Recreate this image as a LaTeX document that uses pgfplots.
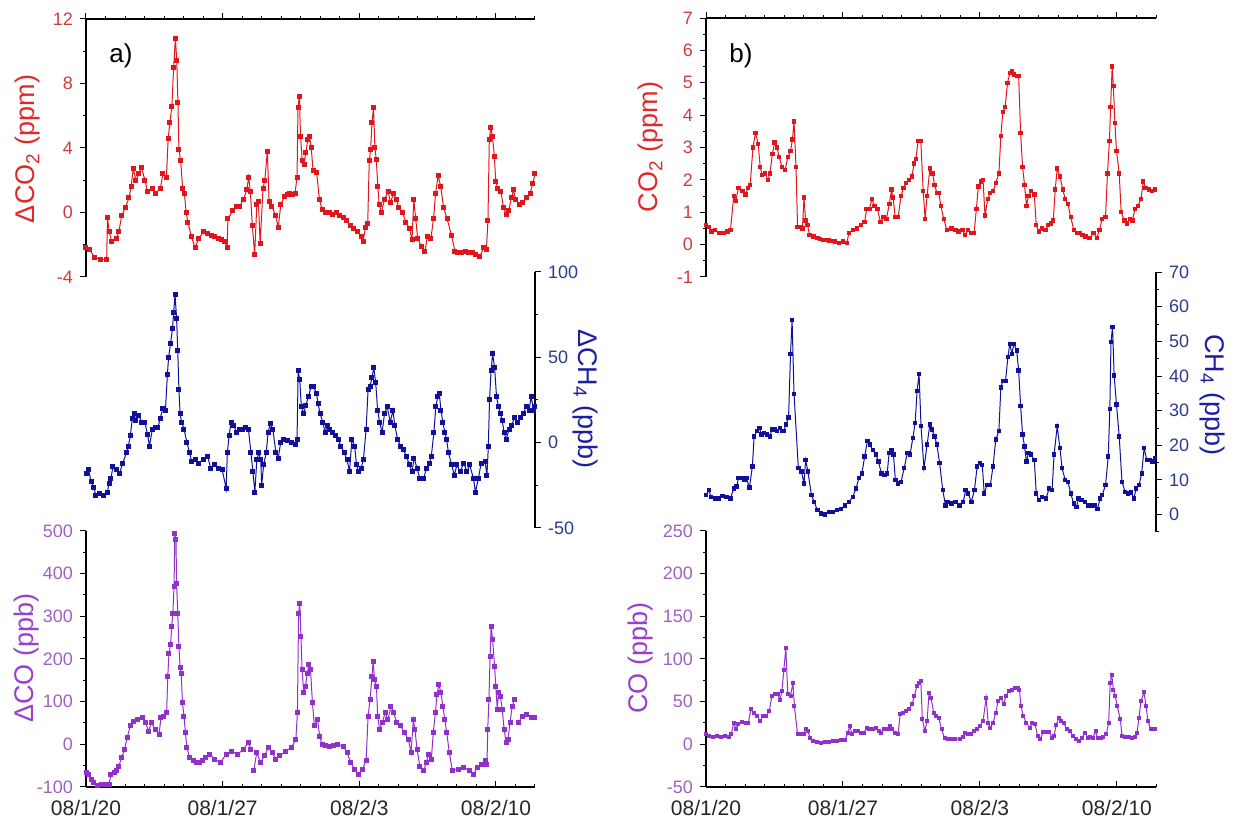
\documentclass[border=0pt]{standalone}
\usepackage{fontspec}
\setmainfont{Liberation Sans}
\usepackage{pgfplots}
\pgfplotsset{compat=1.18}

\definecolor{cred}{HTML}{E0161C}
\definecolor{credlab}{HTML}{E02A2A}
\definecolor{credtick}{HTML}{D03C3C}
\definecolor{cblue}{HTML}{10109A}
\definecolor{cbluelab}{HTML}{1E1EA0}
\definecolor{cbluetick}{HTML}{2E3A8C}
\definecolor{cpurp}{HTML}{9230CC}
\definecolor{cpurplab}{HTML}{9A40CC}
\definecolor{cpurptick}{HTML}{A060C0}

\pgfplotsset{
  panel/.style={
    scale only axis,
    xmin=0, xmax=23,
    xtick={0,7,14,21},
    minor xtick={1,2,3,4,5,6,8,9,10,11,12,13,15,16,17,18,19,20,22,23},
    tick align=outside,
    major tick length=3pt, minor tick length=1.6pt,
    axis line style={-, line width=0.6pt, black},
    every outer x axis line/.append style={-},
    every outer y axis line/.append style={-},
    every inner x axis line/.append style={-},
    every inner y axis line/.append style={-},
    every tick/.append style={black, line width=0.5pt},
    /pgf/number format/assume math mode=true,
    yticklabel style={font=\fontsize{9}{10}\selectfont},
    unbounded coords=jump,
  },
  toppanel/.style={axis x line=top, axis y line=left, panel, xticklabels={}},
  midpanel/.style={axis x line=none, axis y line=right, panel},
  botpanel/.style={axis x line=bottom, axis y line=left, panel,
    xticklabels={08/1/20,08/1/27,08/2/3,08/2/10},
    xticklabel style={font=\fontsize{10.5}{12}\selectfont, text=black!85},
    major x tick style={yshift=3pt}, minor x tick style={yshift=1.6pt}},
  ser/.style={color=#1, line width=0.5pt, mark=square*, mark size=1pt, mark options={solid}},
}

\begin{document}
\begin{tikzpicture}
\useasboundingbox (0,0) rectangle (619.5pt,410pt);

% ---------- a) left column ----------
\begin{axis}[toppanel, at={(43pt,271.5pt)}, anchor=south west,
  width=224.5pt, height=129pt, ymin=-4, ymax=12, ytick={-4,0,4,8,12}, minor y tick num=1,
  yticklabel style={text=credtick}]
\addplot[ser=cred] coordinates {
(0.00,-2.2)(0.18,-2.3)(0.46,-2.8)(0.73,-2.9)(1.06,-2.9)(1.10,-0.3)(1.19,-1.2)(1.32,-1.8)(1.56,-1.6)(1.68,-1.2)
(1.83,-0.2)(2.01,0.3)(2.20,0.9)(2.31,1.6)(2.42,2.7)(2.56,2.0)(2.71,2.4)(2.84,2.8)(3.02,2.0)(3.15,1.3)
(3.39,1.5)(3.57,1.2)(3.81,1.5)(3.94,2.4)(4.12,2.2)(4.21,4.6)(4.30,5.6)(4.40,6.6)(4.49,9.0)(4.58,10.8)
(4.65,9.4)(4.71,6.8)(4.76,3.9)(4.85,3.2)(4.95,1.5)(5.04,1.2)(5.13,0.0)(5.22,-0.6)(5.40,-1.5)(5.59,-2.2)
(5.77,-1.6)(6.04,-1.2)(6.20,-1.3)(6.41,-1.4)(6.60,-1.5)(6.78,-1.6)(6.95,-1.7)(7.11,-1.8)(7.23,-2.2)(7.27,-0.4)
(7.51,0.1)(7.69,0.4)(7.88,0.4)(8.06,0.8)(8.24,1.4)(8.33,2.2)(8.42,1.3)(8.52,-0.8)(8.64,-2.6)(8.75,0.5)
(8.83,0.7)(8.92,-1.9)(9.07,1.5)(9.16,2.0)(9.29,3.8)(9.38,0.7)(9.52,0.4)(9.71,-0.2)(9.85,-0.9)(9.98,0.5)
(10.16,1.0)(10.30,1.1)(10.44,1.2)(10.58,1.1)(10.71,1.2)(10.81,2.2)(10.86,6.5)(10.93,7.2)(10.99,4.7)(11.08,3.2)
(11.17,3.0)(11.26,3.7)(11.36,4.5)(11.45,4.7)(11.54,4.0)(11.63,2.6)(11.81,2.5)(11.96,0.8)(12.09,0.2)(12.25,0.0)
(12.45,0.0)(12.62,-0.1)(12.82,0.0)(13.00,-0.2)(13.19,-0.3)(13.35,-0.5)(13.55,-0.8)(13.72,-1.0)(13.92,-1.2)(14.10,-1.5)
(14.19,-1.8)(14.32,-0.9)(14.43,-0.7)(14.51,3.2)(14.58,3.9)(14.65,5.6)(14.73,6.5)(14.80,4.0)(14.87,3.3)(14.95,1.6)
(15.02,0.5)(15.13,0.0)(15.29,0.8)(15.48,1.3)(15.60,0.6)(15.75,1.2)(15.90,0.8)(16.03,0.3)(16.21,0.0)(16.39,-0.6)
(16.58,-1.0)(16.70,-1.7)(16.79,0.8)(16.89,-0.4)(16.99,-1.6)(17.18,-2.1)(17.36,-2.4)(17.49,-1.5)(17.67,-1.6)(17.80,-0.4)
(17.91,1.2)(18.04,2.3)(18.17,1.6)(18.32,0.3)(18.50,-0.4)(18.72,-1.4)(18.90,-2.4)(19.05,-2.5)(19.23,-2.5)(19.42,-2.4)
(19.60,-2.5)(19.78,-2.5)(19.96,-2.6)(20.18,-2.7)(20.37,-2.2)(20.51,-2.3)(20.59,-0.5)(20.66,4.5)(20.73,5.3)(20.82,4.7)
(20.92,3.5)(20.99,1.9)(21.10,1.5)(21.25,1.3)(21.39,0.3)(21.52,-0.1)(21.65,0.1)(21.79,0.9)(21.90,1.4)(22.01,0.8)
(22.20,0.5)(22.38,0.6)(22.56,0.9)(22.75,1.2)(22.89,1.8)(23.00,2.4)
};
\end{axis}

\begin{axis}[midpanel, at={(43pt,146pt)}, anchor=south west,
  width=224.5pt, height=128pt, ymin=-50, ymax=100, ytick={-50,0,50,100}, minor y tick num=1,
  yticklabel style={text=cbluetick}]
\addplot[ser=cblue] coordinates {
(0.01,-18)(0.14,-16)(0.26,-23)(0.40,-26)(0.50,-31)(0.69,-30)(0.89,-31)(1.09,-29)(1.18,-24)(1.28,-21)
(1.38,-14)(1.58,-16)(1.72,-18)(1.88,-12)(2.07,-6)(2.17,-2)(2.27,4)(2.37,14)(2.46,17)(2.56,13)
(2.70,16)(2.86,12)(3.01,12)(3.15,5)(3.25,-2)(3.40,8)(3.54,9)(3.68,9)(3.80,14)(3.93,20)
(4.07,19)(4.17,40)(4.23,50)(4.33,58)(4.43,67)(4.49,76)(4.56,87)(4.64,73)(4.70,54)(4.76,31)
(4.82,17)(4.90,12)(5.02,8)(5.17,0)(5.31,-6)(5.41,-11)(5.61,-10)(5.76,-12)(6.00,-10)(6.23,-8)
(6.39,-15)(6.59,-13)(6.78,-15)(6.98,-16)(7.18,-27)(7.24,-6)(7.33,4)(7.43,12)(7.57,10)(7.72,6)
(7.87,8)(8.00,8)(8.16,9)(8.32,8)(8.45,-6)(8.55,-17)(8.65,-29)(8.75,-10)(8.85,-6)(8.95,-10)
(9.00,-25)(9.10,-13)(9.23,-6)(9.33,6)(9.43,11)(9.57,8)(9.73,-6)(9.85,-9)(9.97,0)(10.12,2)
(10.32,1)(10.51,0)(10.71,-1)(10.81,2)(10.87,42)(10.95,37)(11.03,21)(11.15,17)(11.26,22)(11.40,27)
(11.53,33)(11.66,33)(11.80,29)(11.89,23)(11.99,17)(12.13,12)(12.25,6)(12.35,10)(12.48,8)(12.64,6)
(12.77,4)(12.91,2)(13.06,-2)(13.23,-6)(13.37,-10)(13.50,-17)(13.62,2)(13.76,-2)(13.86,-13)(13.97,-17)
(14.09,-15)(14.21,-10)(14.35,8)(14.45,31)(14.55,33)(14.65,38)(14.74,44)(14.84,35)(14.94,19)(15.04,12)
(15.17,6)(15.29,17)(15.43,21)(15.59,12)(15.72,19)(15.82,10)(15.96,2)(16.11,-2)(16.25,-4)(16.41,-8)
(16.57,-13)(16.71,-17)(16.80,-9)(16.96,-15)(17.10,-21)(17.30,-21)(17.43,-15)(17.59,-12)(17.69,-8)(17.82,6)
(17.92,21)(18.02,27)(18.10,29)(18.18,19)(18.28,12)(18.38,6)(18.47,2)(18.57,-6)(18.73,-13)(18.87,-19)
(19.00,-13)(19.16,-17)(19.36,-12)(19.51,-17)(19.65,-13)(19.85,-21)(19.95,-29)(20.10,-21)(20.24,-12)(20.44,-11)
(20.54,-19)(20.61,-2)(20.67,25)(20.75,42)(20.83,52)(20.93,44)(21.03,27)(21.13,21)(21.23,17)(21.32,13)
(21.42,6)(21.52,2)(21.68,8)(21.81,10)(21.95,15)(22.11,12)(22.27,15)(22.40,17)(22.54,21)(22.70,19)
(22.80,27)(22.93,19)(23.00,21)
};
\end{axis}

\begin{axis}[botpanel, at={(43pt,16.5pt)}, anchor=south west,
  width=224.5pt, height=128pt, ymin=-100, ymax=500, ytick={-100,0,...,500}, minor y tick num=1,
  yticklabel style={text=cpurptick}]
\addplot[ser=cpurp] coordinates {
(0.01,-66)(0.14,-70)(0.26,-82)(0.40,-90)(0.60,-97)(0.79,-93)(0.99,-93)(1.18,-93)(1.28,-70)(1.48,-66)
(1.58,-62)(1.68,-51)(1.83,-31)(1.97,-12)(2.11,16)(2.27,43)(2.42,54)(2.66,58)(2.89,62)(3.05,51)
(3.21,31)(3.35,51)(3.54,35)(3.74,23)(3.84,62)(3.99,66)(4.13,74)(4.19,160)(4.25,214)(4.33,233)
(4.39,276)(4.45,307)(4.51,370)(4.55,494)(4.61,479)(4.64,377)(4.70,307)(4.76,230)(4.82,179)(4.88,167)
(4.94,97)(5.02,66)(5.09,27)(5.17,-8)(5.31,-31)(5.51,-39)(5.65,-42)(5.80,-43)(5.95,-38)(6.10,-31)
(6.35,-23)(6.59,-35)(6.88,-43)(7.18,-23)(7.47,-16)(7.77,-23)(8.06,-12)(8.31,4)(8.45,-12)(8.52,nan)
(8.59,-62)(8.75,-19)(8.94,-43)(9.14,-27)(9.34,-8)(9.53,-19)(9.73,-35)(9.93,-27)(10.22,-16)(10.52,-8)
(10.75,12)(10.83,74)(10.89,307)(10.95,331)(11.01,253)(11.07,175)(11.15,121)(11.24,136)(11.34,167)(11.42,187)
(11.50,175)(11.60,97)(11.70,43)(11.86,58)(11.97,19)(12.09,0)(12.28,-2)(12.48,-4)(12.68,-2)(12.88,0)
(13.17,-4)(13.37,-19)(13.56,-43)(13.76,-58)(13.96,-70)(14.15,-58)(14.35,-39)(14.45,66)(14.55,105)(14.65,160)
(14.71,195)(14.78,152)(14.88,136)(14.94,66)(15.04,35)(15.17,51)(15.33,74)(15.47,58)(15.62,89)(15.76,74)
(15.92,51)(16.12,43)(16.31,27)(16.51,12)(16.65,-19)(16.77,58)(16.85,35)(16.96,-12)(17.10,-51)(17.30,-62)
(17.43,-43)(17.55,-23)(17.69,-35)(17.79,27)(17.90,74)(17.98,117)(18.08,140)(18.18,121)(18.28,89)(18.38,58)
(18.48,27)(18.61,-19)(18.77,-62)(19.06,-58)(19.36,-54)(19.65,-62)(19.85,-70)(20.05,-54)(20.24,-47)(20.44,-39)
(20.54,-47)(20.58,35)(20.64,105)(20.70,206)(20.75,276)(20.83,245)(20.93,183)(20.99,136)(21.07,82)(21.13,121)
(21.23,113)(21.32,82)(21.42,35)(21.52,4)(21.62,12)(21.72,51)(21.83,89)(21.95,105)(22.05,nan)(22.15,51)
(22.34,66)(22.54,70)(22.80,62)(23.00,62)
};
\end{axis}

% ---------- b) right column ----------
\begin{axis}[toppanel, at={(353pt,271.5pt)}, anchor=south west,
  width=225pt, height=129.5pt, ymin=-1, ymax=7, ytick={-1,0,...,7}, minor y tick num=1,
  yticklabel style={text=credtick}]
\addplot[ser=cred, mark size=0.85pt] coordinates {
(0.00,0.6)(0.15,0.55)(0.29,0.4)(0.45,0.45)(0.65,0.35)(0.89,0.35)(1.09,0.4)(1.25,0.45)(1.42,1.5)(1.52,1.35)
(1.66,1.75)(1.86,1.65)(2.02,1.55)(2.16,1.75)(2.26,1.85)(2.40,3.0)(2.53,3.45)(2.67,3.1)(2.77,2.4)(2.87,2.15)
(3.03,2.2)(3.17,2.0)(3.27,2.2)(3.39,2.8)(3.51,3.15)(3.63,3.0)(3.74,2.7)(3.88,2.4)(4.04,2.3)(4.18,2.7)
(4.32,2.9)(4.42,3.25)(4.50,3.8)(4.60,2.4)(4.68,0.55)(4.80,0.55)(4.93,0.5)(5.01,1.45)(5.09,0.75)(5.19,0.6)
(5.29,0.3)(5.49,0.25)(5.69,0.2)(5.84,0.17)(5.99,0.15)(6.15,0.14)(6.30,0.13)(6.45,0.12)(6.60,0.1)(6.80,0.05)
(7.00,0.1)(7.20,0.05)(7.30,0.35)(7.50,0.45)(7.71,0.5)(7.91,0.6)(8.11,0.7)(8.21,1.1)(8.35,1.1)(8.48,1.4)
(8.62,1.2)(8.76,1.1)(8.92,0.7)(9.08,0.85)(9.22,0.8)(9.37,1.25)(9.48,1.7)(9.56,1.45)(9.67,0.85)(9.82,0.85)
(9.97,1.5)(10.09,1.75)(10.23,1.9)(10.37,2.0)(10.53,2.1)(10.63,2.5)(10.73,2.65)(10.84,3.2)(10.98,3.2)(11.10,1.65)
(11.20,0.8)(11.30,1.5)(11.44,2.35)(11.58,2.2)(11.68,1.85)(11.80,1.6)(11.90,1.6)(12.00,1.2)(12.15,0.8)(12.31,0.45)
(12.55,0.5)(12.75,0.45)(12.91,0.4)(13.11,0.45)(13.25,0.3)(13.40,0.45)(13.56,0.35)(13.70,0.35)(13.82,1.1)(13.92,1.8)
(14.04,1.95)(14.16,2.0)(14.26,0.9)(14.40,1.4)(14.53,1.6)(14.67,1.65)(14.81,1.9)(14.97,2.2)(15.07,3.35)(15.17,4.1)
(15.29,4.25)(15.41,5.0)(15.53,5.3)(15.63,5.35)(15.74,5.25)(15.88,5.2)(15.98,5.2)(16.08,3.45)(16.18,2.4)(16.28,1.85)
(16.38,1.2)(16.48,1.5)(16.62,1.65)(16.78,1.55)(16.88,0.6)(17.02,0.4)(17.18,0.5)(17.35,0.45)(17.49,0.6)(17.63,0.65)
(17.75,0.75)(17.85,1.7)(17.95,2.35)(18.09,2.1)(18.24,1.7)(18.36,1.4)(18.50,1.25)(18.64,0.85)(18.80,0.45)(18.96,0.35)
(19.10,0.35)(19.24,0.3)(19.40,0.25)(19.61,0.2)(19.81,0.35)(19.97,0.2)(20.11,0.45)(20.25,0.8)(20.42,0.85)(20.52,2.2)
(20.62,3.2)(20.68,4.25)(20.76,5.5)(20.82,4.9)(20.90,3.75)(20.98,2.9)(21.12,2.2)(21.22,1.0)(21.38,0.75)(21.52,0.65)
(21.66,0.8)(21.79,0.75)(21.93,1.1)(22.07,1.2)(22.23,1.4)(22.35,1.95)(22.47,1.75)(22.63,1.7)(22.80,1.65)(22.94,1.7)
};
\end{axis}

\begin{axis}[midpanel, at={(353pt,144pt)}, anchor=south west,
  width=225pt, height=130pt, ymin=-5, ymax=70, ytick={0,10,...,70}, minor ytick={-5,5,...,65},
  yticklabel style={text=cbluetick}]
\addplot[ser=cblue, mark size=0.85pt] coordinates {
(0.00,5.6)(0.15,7.1)(0.25,5.1)(0.45,4.7)(0.65,4.7)(0.85,5.4)(1.05,5.1)(1.25,4.7)(1.42,7.6)(1.56,8.1)
(1.66,10.5)(1.82,10.5)(1.96,10.0)(2.06,10.5)(2.22,7.8)(2.37,13.9)(2.46,22.6)(2.61,24.1)(2.73,25.0)(2.83,23.1)
(2.97,23.6)(3.11,23.1)(3.27,22.6)(3.37,24.6)(3.51,24.6)(3.63,24.1)(3.78,25.0)(3.88,24.1)(3.98,24.1)(4.08,26.0)
(4.22,28.0)(4.32,46.4)(4.40,56.1)(4.50,34.8)(4.72,13.4)(4.88,12.4)(5.01,9.0)(5.09,15.8)(5.21,12.4)(5.39,5.6)
(5.53,3.7)(5.69,1.3)(5.89,0.3)(6.09,0.0)(6.29,0.8)(6.50,0.8)(6.70,1.3)(6.90,1.7)(7.10,2.7)(7.30,3.7)
(7.50,5.1)(7.67,7.6)(7.81,10.5)(7.97,11.9)(8.11,16.8)(8.25,21.2)(8.37,20.2)(8.52,18.7)(8.68,17.3)(8.82,15.3)
(8.96,11.9)(9.12,11.5)(9.26,11.9)(9.36,17.8)(9.48,18.7)(9.58,17.3)(9.68,10.0)(9.82,9.0)(9.97,9.5)(10.13,13.4)
(10.29,17.8)(10.43,17.3)(10.57,22.1)(10.69,26.5)(10.79,35.7)(10.89,40.6)(10.99,25.5)(11.14,13.4)(11.30,20.2)(11.44,26.0)
(11.54,24.6)(11.68,22.6)(11.80,20.2)(11.94,14.9)(12.10,7.1)(12.24,2.7)(12.34,3.7)(12.55,3.2)(12.75,3.7)(12.95,2.7)
(13.15,3.7)(13.27,7.1)(13.40,6.1)(13.56,3.7)(13.72,7.1)(13.86,13.9)(14.00,14.9)(14.12,14.4)(14.22,6.1)(14.36,8.5)
(14.53,8.5)(14.67,13.9)(14.81,21.7)(14.97,24.1)(15.07,36.7)(15.17,38.6)(15.31,38.6)(15.43,45.4)(15.53,49.3)(15.63,46.4)
(15.74,49.3)(15.88,47.4)(15.98,41.6)(16.08,31.4)(16.18,23.1)(16.28,19.7)(16.38,15.3)(16.48,17.8)(16.62,17.3)(16.78,15.8)
(16.88,6.1)(17.02,4.2)(17.18,5.1)(17.38,4.7)(17.54,7.6)(17.69,7.1)(17.79,17.3)(17.95,25.5)(18.09,19.2)(18.20,13.4)
(18.36,10.0)(18.50,9.5)(18.64,6.1)(18.80,3.2)(18.94,2.2)(19.04,4.7)(19.20,4.2)(19.37,3.7)(19.51,2.7)(19.71,2.7)
(19.85,2.7)(20.01,1.7)(20.15,4.7)(20.25,5.6)(20.42,8.5)(20.56,16.8)(20.64,30.4)(20.70,49.8)(20.78,54.2)(20.86,40.1)
(20.98,31.8)(21.12,22.6)(21.26,9.5)(21.42,6.6)(21.58,6.1)(21.73,6.4)(21.87,4.7)(21.99,7.6)(22.13,8.5)(22.27,11.9)
(22.39,19.2)(22.53,15.8)(22.67,15.8)(22.83,15.3)(22.94,16.3)
};
\end{axis}

\begin{axis}[botpanel, at={(353pt,16.5pt)}, anchor=south west,
  width=225pt, height=128pt, ymin=-50, ymax=250, ytick={-50,0,...,250}, minor y tick num=1,
  yticklabel style={text=cpurptick}]
\addplot[ser=cpurp, mark size=0.75pt] coordinates {
(0.00,11.7)(0.15,9.7)(0.35,9.0)(0.55,9.7)(0.75,9.0)(0.95,9.7)(1.15,9.0)(1.29,11.7)(1.42,25.3)(1.52,18.3)
(1.66,23.3)(1.86,26.0)(2.02,24.5)(2.16,24.5)(2.30,41.6)(2.46,37.0)(2.63,33.0)(2.77,27.2)(2.91,33.0)(3.07,33.0)
(3.23,38.9)(3.37,56.4)(3.53,58.4)(3.67,58.4)(3.78,52.5)(3.88,62.3)(3.98,87.5)(4.08,112.8)(4.18,58.4)(4.32,56.4)
(4.44,72.0)(4.52,44.7)(4.68,11.7)(4.84,11.7)(4.99,11.7)(5.09,17.5)(5.19,15.6)(5.33,7.8)(5.49,3.9)(5.69,2.7)
(5.89,1.9)(6.09,2.7)(6.30,2.7)(6.50,3.9)(6.70,3.9)(6.90,4.7)(7.10,5.0)(7.26,13.6)(7.34,21.4)(7.47,11.7)
(7.61,15.6)(7.77,15.6)(7.91,13.6)(8.07,13.6)(8.21,19.5)(8.35,17.5)(8.52,17.5)(8.68,19.5)(8.82,15.6)(8.96,13.6)
(9.12,17.5)(9.28,17.5)(9.42,21.4)(9.52,17.5)(9.68,13.6)(9.82,11.7)(9.92,35.0)(10.09,37.0)(10.23,38.9)(10.37,40.9)
(10.53,46.7)(10.65,56.4)(10.77,68.0)(10.87,72.0)(10.98,73.9)(11.06,29.2)(11.18,15.6)(11.30,27.2)(11.40,60.3)(11.50,54.5)
(11.64,37.0)(11.78,33.0)(11.90,31.1)(12.04,17.5)(12.19,7.8)(12.35,6.6)(12.55,5.8)(12.75,5.8)(12.96,6.6)(13.12,9.0)
(13.26,13.6)(13.40,11.7)(13.56,11.7)(13.72,15.6)(13.86,17.5)(14.00,21.4)(14.16,27.2)(14.32,54.5)(14.42,25.3)(14.53,19.5)
(14.67,25.3)(14.81,37.0)(14.93,50.6)(15.07,54.5)(15.21,46.7)(15.33,56.4)(15.47,62.3)(15.63,64.2)(15.77,66.1)(15.94,66.1)
(16.02,64.2)(16.10,44.7)(16.22,33.0)(16.38,25.3)(16.54,19.5)(16.68,25.3)(16.82,23.3)(16.95,9.7)(17.09,5.8)(17.23,14.4)
(17.39,14.4)(17.55,14.4)(17.69,7.8)(17.79,9.7)(17.89,22.2)(18.03,31.1)(18.15,27.2)(18.29,25.3)(18.43,17.5)(18.59,15.6)
(18.76,9.7)(18.90,5.8)(19.04,3.9)(19.20,7.8)(19.37,13.6)(19.51,7.8)(19.65,9.0)(19.78,7.8)(19.91,15.6)(20.01,7.8)
(20.17,7.8)(20.31,9.0)(20.46,11.7)(20.58,25.3)(20.66,72.0)(20.74,81.7)(20.82,64.2)(20.92,56.4)(21.02,44.7)(21.18,29.2)
(21.26,9.7)(21.42,9.0)(21.62,9.0)(21.79,7.8)(21.93,9.0)(22.03,13.6)(22.13,31.1)(22.23,50.6)(22.39,61.0)(22.49,44.7)
(22.59,27.2)(22.73,17.5)(22.85,17.5)(22.94,17.5)
};
\end{axis}

% ---------- axis titles and panel letters ----------
\begin{scope}[every node/.style={font=\fontsize{13.5}{15}\selectfont, inner sep=0pt}]
\node[rotate=90, text=credlab] at (14pt,335.5pt) {ΔCO\textsubscript{2} (ppm)};
\node[rotate=-90, text=cbluelab] at (292.5pt,210.5pt) {ΔCH\textsubscript{4} (ppb)};
\node[rotate=90, text=cpurplab] at (13.5pt,81pt) {ΔCO (ppb)};
\node[rotate=90, text=credlab] at (325.5pt,336.5pt) {CO\textsubscript{2} (ppm)};
\node[rotate=-90, text=cbluelab] at (606pt,212.5pt) {CH\textsubscript{4} (ppb)};
\node[rotate=90, text=cpurplab] at (320.5pt,81pt) {CO (ppb)};
\node[font=\fontsize{13}{15}\selectfont] at (60.5pt,382pt) {a)};
\node[font=\fontsize{13}{15}\selectfont] at (370.5pt,382pt) {b)};
\end{scope}
\end{tikzpicture}
\end{document}
